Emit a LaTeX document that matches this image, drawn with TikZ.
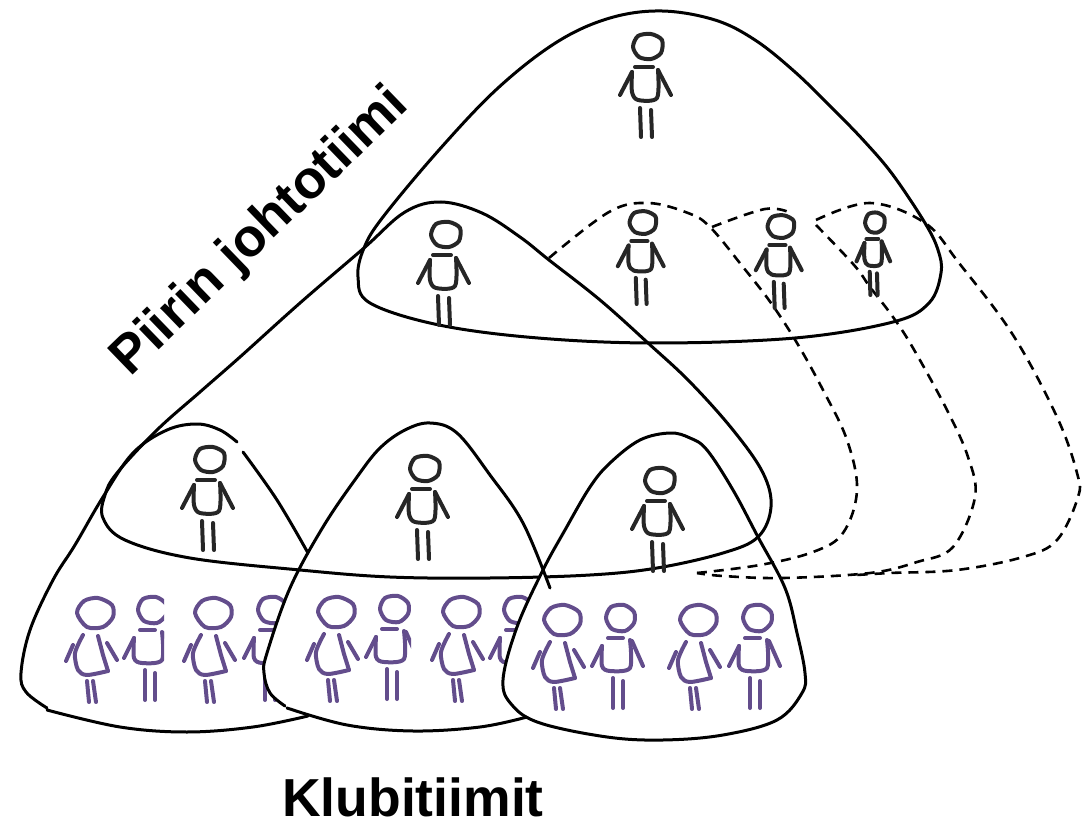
\documentclass[tikz,border=0pt]{standalone}
\usepackage{fontspec}
\setmainfont{Liberation Sans}
\definecolor{figpurple}{HTML}{634D8C}
\definecolor{figblack}{HTML}{262626}
\tikzset{
 outline/.style={draw=black,line width=3pt,line cap=round},
 dashline/.style={draw=black,line width=2.6pt,dash pattern=on 10pt off 7pt},
 stroke/.style={line width=4pt,line cap=round,line join=round},
 labeltext/.style={font=\bfseries\fontsize{53.5}{54}\selectfont,inner sep=0pt},
 blackfig/.pic={
  \begin{scope}[stroke,draw=figblack]
  \draw plot[smooth cycle] coordinates {(-15,0)(-10,-11)(3,-13)(14,-7)(13,6)(3,12)(-9,10)};
  \draw (-13,20)--(5,20);
  \draw plot[smooth,tension=.5] coordinates {(-16,25)(-16,45)(-10,53)(9,51)(10,23)};
  \draw (-16,25)--(-28,48) (10,23)--(23,48);
  \draw (-8,61)--(-7,90) (3,63)--(4,90);
  \end{scope}},
 femalefig/.pic={
  \begin{scope}[stroke,draw=figpurple]
  \draw plot[smooth cycle] coordinates {(-18,0)(-11,-12)(3,-15)(17,-8)(18,4)(8,14)(-8,14)};
  \draw plot[smooth,tension=.5] coordinates {(-12,22)(-20,40)(-17,57)(-8,62)(13,58)};
  \draw (3,23)--(8,42)--(13,58);
  \draw (-22,32)--(-29,48) (12,30)--(22,47);
  \draw (-8,68)--(-6,89) (-2,68)--(1,89);
  \end{scope}},
 malefig/.pic={
  \begin{scope}[stroke,draw=figpurple]
  \draw plot[smooth cycle] coordinates {(-14,0)(-9,-11)(4,-13)(14,-6)(14,5)(5,13)(-8,11)};
  \draw (-12,20)--(3,20);
  \draw plot[smooth,tension=.5] coordinates {(-18,28)(-18,48)(-10,53)(10,50)(10,22)};
  \draw (-18,28)--(-28,48) (12,23)--(23,48);
  \draw (-7,60)--(-7,90) (3,63)--(3,90);
  \end{scope}}
}
\begin{document}
\begin{tikzpicture}[x=1pt,y=-1pt]
\useasboundingbox (0,0) rectangle (1088,821);
% dashed domes
\draw[dashline] plot[smooth,tension=.6] coordinates {(549,258)(609,212)(648,203)(688,213)(710,227)(743,267)(771,303)(797,343)(823,390)(847,440)(857,490)(843,533)(813,552)(760,565)(697,573)};
\draw[dashline] plot[smooth,tension=.6] coordinates {(712,227)(765,209)(791,213)};
\draw[dashline] plot[smooth,tension=.6] coordinates {(816,225)(854,265)(870,287)(893,317)(913,348)(947,410)(968,457)(975,497)(953,547)(917,562)(870,573)(783,578)(723,576)(697,573)};
\draw[dashline] plot[smooth,tension=.6] coordinates {(816,220)(870,203)(925,223)(959,263)(1013,335)(1057,417)(1077,473)(1078,497)(1057,540)(1023,557)(957,570)(890,573)(857,575)};
% level two domes
\draw[outline] plot[smooth cycle,tension=.6] coordinates {(662,11)(715,20)(755,40)(795,72)(834,110)(865,142)(893,175)(925,223)(938,250)(941,273)(929,303)(893,322)(795,338)(656,343)(538,338)(439,325)(370,303)(358,277)(364,248)(383,217)(439,150)(498,88)(557,42)(610,18)};
\draw[outline] plot[smooth cycle,tension=.6] coordinates {(441,202)(482,213)(520,237)(549,260)(600,300)(648,343)(690,382)(733,430)(763,473)(771,507)(758,537)(723,553)(657,568)(590,575)(490,578)(390,577)(300,570)(190,558)(125,540)(103,518)(105,495)(117,473)(157,430)(200,392)(240,357)(300,303)(364,248)(405,212)};
% club figures: left image
\pic at (95,613) {femalefig};
\begin{scope}
\clip (46,591) rectangle (164,709);
\pic at (152,610) {malefig};
\end{scope}
\pic at (213,613) {femalefig};
\pic at (272,610) {malefig};
% the second club hides what lies to the right of its left edge
\fill[white] plot[smooth,tension=.6] coordinates {(290,588)(267,653)(264,673)(270,693)(285,706)} -- (300,706) -- (300,588) -- cycle;
\fill[white] (286,590) rectangle (411,708);
\fill[white] (411,590) rectangle (511,708);
\pic at (336,612) {femalefig};
\begin{scope}
\clip (286,590) rectangle (411,708);
\pic at (394,609) {malefig};
\end{scope}
\pic at (461,612) {femalefig};
\pic at (518,610) {malefig};
% the third club hides what lies to the right of its left edge
\fill[white] plot[smooth,tension=.6] coordinates {(543,570)(517,627)(503,680)(512,705)(540,723)} -- (545,723) -- (545,570) -- cycle;
\fill[white] (545,600) rectangle (650,715);
\fill[white] (650,600) rectangle (780,715);
\pic at (562,620) {femalefig};
\pic at (620,618) {malefig};
\pic at (698,620) {femalefig};
\pic at (757,618) {malefig};
% club domes
\draw[outline] plot[smooth,tension=.6] coordinates {(237,442)(220,430)(197,424)(167,430)(133,453)(103,497)(75,545)(53,580)(30,630)(21,673)(26,692)(47,708)};
\draw[outline] plot[smooth,tension=.6] coordinates {(47,710)(120,727)(187,732)(253,727)(308,716)};
\draw[outline] plot[smooth,tension=.6] coordinates {(243,452)(277,500)(308,553)};
\draw[outline] plot[smooth,tension=.6] coordinates {(550,588)(523,523)(490,475)(457,433)(430,423)(405,430)(380,448)(357,477)(323,527)(290,588)(267,653)(264,673)(270,693)(285,706)};
\draw[outline] plot[smooth,tension=.6] coordinates {(287,708)(347,725)(413,731)(480,727)(527,717)};
\draw[outline] plot[smooth cycle,tension=.6] coordinates {(670,433)(640,440)(610,463)(590,487)(565,530)(543,570)(517,627)(503,680)(512,705)(540,723)(607,737)(663,740)(723,735)(777,720)(802,693)(805,673)(797,633)(785,588)(758,537)(733,490)(707,450)(690,438)};
% black figures
\pic at (648,47) {blackfig};
\pic at (446,235) {blackfig};
\pic[scale=.9] at (643,223) {blackfig};
\pic[scale=.9] at (781,227) {blackfig};
\pic[xscale=.66,yscale=.8] at (875,223) {blackfig};
\pic at (210,460) {blackfig};
\pic at (425,469) {blackfig};
\pic at (660,481) {blackfig};
% labels
\node[labeltext,rotate=44] (dist) at (261,232) {Piirin johtotiimi};
\node[labeltext] (clubs) at (413,797) {Klubitiimit};
\end{tikzpicture}
\end{document}
